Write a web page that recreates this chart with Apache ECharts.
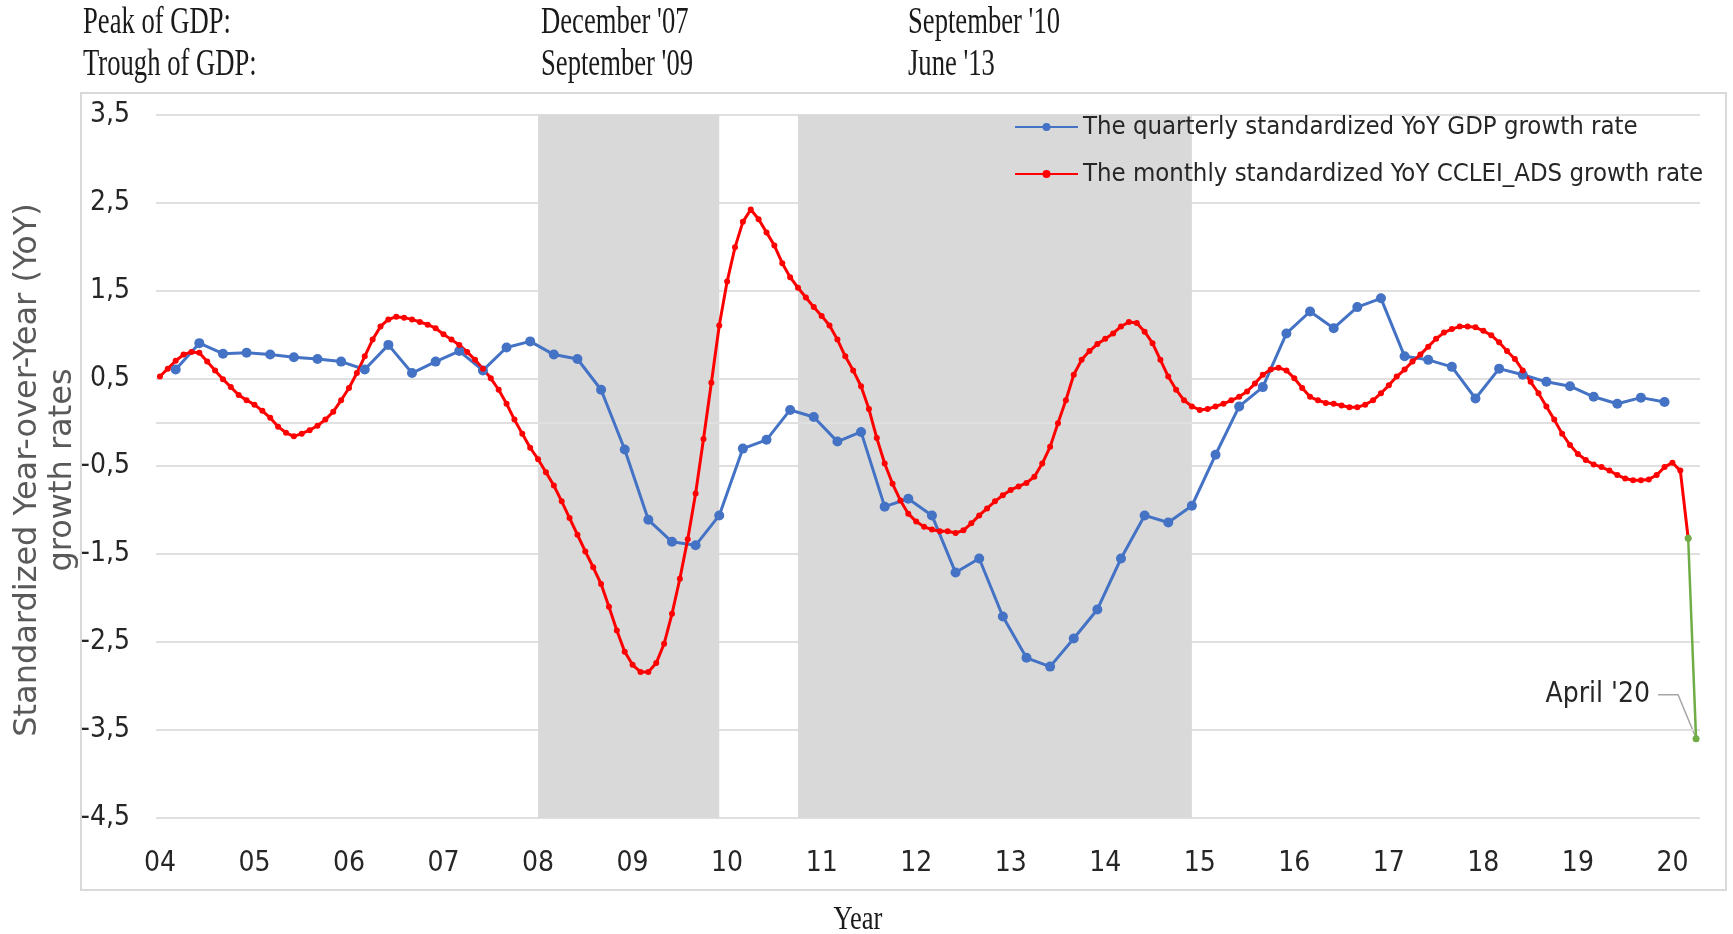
<!DOCTYPE html>
<html>
<head>
<meta charset="utf-8">
<title>CCLEI_ADS vs GDP</title>
<script src="https://cdn.jsdelivr.net/npm/echarts@6/dist/echarts.min.js"></script>
<style>
  html, body { margin: 0; padding: 0; background: #fff; }
  #main { width: 1733px; height: 934px; }
</style>
</head>
<body>
<div id="main"></div>
<script type="text/javascript">
// labels under the x axis, one per January
let yearLabels = ['04', '05', '06', '07', '08', '09', '10', '11', '12', '13', '14', '15', '16', '17', '18', '19', '20'];
let firstYear = 2004;
let lastMonth = '2020-04';

// monthly standardized YoY CCLEI_ADS growth rate, Jan 2004 .. Mar 2020
let cclei = [
    0.52, 0.61, 0.70, 0.77, 0.80, 0.79, 0.69, 0.59, 0.49, 0.40, 0.31, 0.25,
    0.20, 0.13, 0.05, -0.05, -0.12, -0.16, -0.13, -0.09, -0.04, 0.03, 0.12, 0.25,
    0.39, 0.56, 0.75, 0.94, 1.09, 1.17, 1.20, 1.19, 1.17, 1.14, 1.11, 1.07,
    1.00, 0.94, 0.88, 0.80, 0.71, 0.61, 0.50, 0.37, 0.21, 0.03, -0.13, -0.29,
    -0.42, -0.57, -0.72, -0.90, -1.09, -1.28, -1.47, -1.65, -1.84, -2.10, -2.37, -2.61,
    -2.76, -2.84, -2.84, -2.74, -2.52, -2.18, -1.78, -1.33, -0.81, -0.19, 0.45, 1.10,
    1.60, 1.99, 2.28, 2.42, 2.31, 2.16, 2.01, 1.81, 1.65, 1.53, 1.42, 1.31,
    1.21, 1.10, 0.94, 0.75, 0.59, 0.41, 0.15, -0.18, -0.47, -0.70, -0.89, -1.04,
    -1.13, -1.19, -1.22, -1.24, -1.24, -1.26, -1.23, -1.15, -1.06, -0.98, -0.90, -0.83,
    -0.77, -0.73, -0.69, -0.62, -0.47, -0.28, -0.01, 0.25, 0.54, 0.71, 0.81, 0.89,
    0.95, 1.01, 1.09, 1.14, 1.13, 1.03, 0.90, 0.71, 0.52, 0.37, 0.25, 0.18,
    0.14, 0.15, 0.18, 0.21, 0.25, 0.29, 0.35, 0.44, 0.54, 0.60, 0.62, 0.59,
    0.50, 0.39, 0.29, 0.25, 0.22, 0.21, 0.19, 0.17, 0.17, 0.20, 0.25, 0.33,
    0.42, 0.52, 0.60, 0.69, 0.77, 0.86, 0.95, 1.02, 1.06, 1.09, 1.09, 1.08,
    1.04, 0.99, 0.91, 0.81, 0.72, 0.59, 0.46, 0.33, 0.18, 0.03, -0.13, -0.26,
    -0.36, -0.43, -0.48, -0.51, -0.55, -0.60, -0.64, -0.66, -0.66, -0.65, -0.60, -0.51,
    -0.46, -0.55, -1.32
];
// April 2020 (drawn in green)
let ccleiApril = -3.60;

// quarterly standardized YoY GDP growth rate, Q1 2004 .. Q4 2019 (plotted at Mar/Jun/Sep/Dec)
let gdp = [
    0.60, 0.90, 0.78, 0.79,
    0.77, 0.74, 0.72, 0.69,
    0.60, 0.88, 0.56, 0.69,
    0.81, 0.59, 0.85, 0.92,
    0.77, 0.72, 0.37, -0.31,
    -1.11, -1.36, -1.40, -1.06,
    -0.30, -0.20, 0.14, 0.06,
    -0.22, -0.11, -0.96, -0.87,
    -1.06, -1.71, -1.55, -2.21,
    -2.68, -2.78, -2.46, -2.13,
    -1.55, -1.06, -1.14, -0.95,
    -0.37, 0.18, 0.40, 1.01,
    1.26, 1.07, 1.31, 1.41,
    0.75, 0.71, 0.63, 0.27,
    0.61, 0.54, 0.46, 0.41,
    0.29, 0.21, 0.28, 0.23
];

// grey shaded periods
let shadeStart = ['2008-01', '2010-10'];
let shadeEnd = ['2009-12', '2014-12'];

// header table
let headerLabels = ['Peak of GDP:', 'Trough of GDP:'];
let headerFirst = ["December '07", "September '09"];
let headerSecond = ["September '10", "June '13"];

let seriesNames = ['The quarterly standardized YoY GDP growth rate', 'The monthly standardized YoY CCLEI_ADS growth rate'];
let yTitle = ['Standardized Year-over-Year (YoY)', 'growth rates'];

// ---- build monthly categories ----
let months = [];
for (let y = firstYear; y <= 2020; y++) {
    for (let m = 1; m <= 12; m++) {
        let key = y + '-' + (m < 10 ? '0' + m : m);
        months.push(key);
        if (key === lastMonth) break;
    }
}

let gdpData = gdp.map((v, k) => [months[k * 3 + 2], v]);
let ccleiData = cclei.map((v, i) => [months[i], v]);
let greenData = [[months[cclei.length - 1], cclei[cclei.length - 1]], [months[cclei.length], ccleiApril]];

let narrow = "'Liberation Sans Narrow', 'DejaVu Sans Condensed', 'Liberation Sans', sans-serif";
let serif = "'Liberation Serif', 'DejaVu Serif', serif";
let txtColor = '#262626';

let headerGraphics = [];
for (let r = 0; r < 2; r++) {
    let y = 23 + r * 42;
    [[83, headerLabels[r]], [541, headerFirst[r]], [908, headerSecond[r]]].forEach(p => {
        headerGraphics.push({
            type: 'text', x: p[0], y: y, scaleX: 0.72, silent: true,
            style: { text: p[1], font: '37px ' + serif, fill: '#1a1a1a', verticalAlign: 'middle' }
        });
    });
}
// rotated y axis title, two lines
let yTitleGraphics = yTitle.map((t, k) => ({
    type: 'text', x: 28 + k * 35, y: 470, rotation: Math.PI / 2, silent: true,
    style: { text: t, font: "32px 'DejaVu Sans', sans-serif", fill: '#595959', align: 'center', verticalAlign: 'middle' }
}));

let myChart = echarts.init(document.getElementById('main'));
let option = {
    animation: false,
    backgroundColor: '#fff',
    grid: { left: 156, right: 33, top: 114.6, bottom: 116.2, containLabel: false, outerBoundsMode: 'none' },
    legend: {
        orient: 'vertical', left: 1014, top: 114,
        itemWidth: 63, itemHeight: 10, itemGap: 21, padding: 0,
        data: seriesNames,
        textStyle: { fontFamily: narrow, fontSize: 25.5, color: txtColor }
    },
    xAxis: {
        type: 'category', data: months, boundaryGap: true,
        axisLine: { show: false }, axisTick: { show: false },
        splitLine: { show: false },
        axisLabel: {
            interval: (index) => index % 12 === 0,
            formatter: (value) => yearLabels[parseInt(value) - firstYear],
            fontFamily: narrow, fontSize: 28, color: txtColor, margin: 32
        }
    },
    yAxis: {
        type: 'value', min: -4.5, max: 3.5, interval: 1,
        axisLine: { show: false }, axisTick: { show: false },
        splitLine: { lineStyle: { color: '#e0e0e0', width: 2 } },
        axisLabel: {
            formatter: (v) => String(v).replace('.', ','),
            fontFamily: narrow, fontSize: 28, color: txtColor, margin: 26
        }
    },
    series: [
        {
            name: seriesNames[0], type: 'line', data: gdpData,
            symbol: 'circle', symbolSize: 10, showAllSymbol: true,
            lineStyle: { color: '#4472c4', width: 3 },
            itemStyle: { color: '#4472c4' },
            markLine: {
                silent: true, symbol: 'none', z: 1, label: { show: false },
                lineStyle: { color: '#e0e0e0', width: 2, type: 'solid' },
                data: [{ yAxis: 0 }]
            }
        },
        {
            name: seriesNames[1], type: 'line', data: ccleiData,
            symbol: 'circle', symbolSize: 6, showAllSymbol: true,
            lineStyle: { color: '#ff0000', width: 3 },
            itemStyle: { color: '#ff0000' },
            markArea: {
                silent: true,
                itemStyle: { color: '#d9d9d9' },
                data: shadeStart.map((s, k) => [{ xAxis: s }, { xAxis: shadeEnd[k] }])
            }
        },
        {
            name: 'April 2020', type: 'line', data: greenData,
            symbol: 'circle', symbolSize: 7, showAllSymbol: true,
            lineStyle: { color: '#70ad47', width: 2.5 },
            itemStyle: { color: '#70ad47' }
        }
    ],
    graphic: [
        {
            type: 'rect', silent: true, z: -1,
            shape: { x: 81, y: 93, width: 1645, height: 797 },
            style: { fill: 'none', stroke: '#d9d9d9', lineWidth: 2 }
        },
        {
            type: 'text', x: 858, y: 920, scaleX: 0.78, silent: true,
            style: { text: 'Year', font: '34px ' + serif, fill: '#1a1a1a', align: 'center', verticalAlign: 'middle' }
        }
    ].concat(headerGraphics, yTitleGraphics)
};
myChart.setOption(option);

// callout for the April '20 point, placed from the point's pixel position
let pt = myChart.convertToPixel({ xAxisIndex: 0, yAxisIndex: 0 }, [cclei.length, ccleiApril]);
myChart.setOption({
    graphic: option.graphic.concat([
        {
            type: 'polyline', silent: true,
            shape: { points: [[pt[0] - 38, pt[1] - 44], [pt[0] - 18, pt[1] - 44], [pt[0] - 1, pt[1] - 3]] },
            style: { stroke: '#a6a6a6', lineWidth: 1.5, fill: null }
        },
        {
            type: 'text', x: pt[0] - 46, y: pt[1] - 44, silent: true,
            style: { text: "April '20", font: '28px ' + narrow, fill: txtColor, align: 'right', verticalAlign: 'middle' }
        }
    ])
});
</script>
</body>
</html>
